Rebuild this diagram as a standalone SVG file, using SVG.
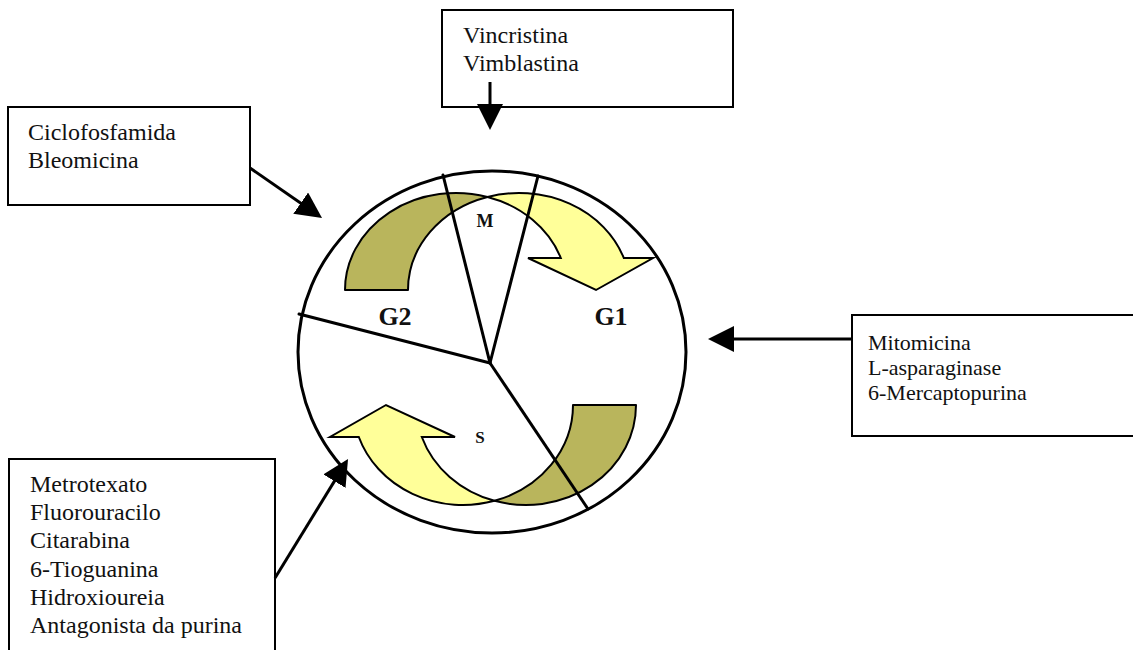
<svg xmlns="http://www.w3.org/2000/svg" width="1133" height="650" viewBox="0 0 1133 650">
<style>
.box{fill:#fff;stroke:#000;stroke-width:2}
.txt{font-family:"Liberation Serif","Times New Roman",serif;font-size:24px;fill:#111}
.txt2{font-family:"Liberation Serif","Times New Roman",serif;font-size:22px;fill:#111}
.lbl{font-family:"Liberation Serif","Times New Roman",serif;font-weight:bold;fill:#111;text-anchor:middle}
.conn{stroke:#000;stroke-width:3;fill:none;marker-end:url(#ah)}
.seg{stroke:#000;stroke-width:3;fill:none;stroke-linecap:round}
.olive{fill:#b9b55c;stroke:#000;stroke-width:2;stroke-linejoin:round}
.yel{fill:#ffff99;stroke:#000;stroke-width:2;stroke-linejoin:miter}
</style>
<defs>
<marker id="ah" markerUnits="userSpaceOnUse" markerWidth="27" markerHeight="27" refX="20" refY="13" orient="auto" viewBox="0 0 27 27">
<path d="M0,0 L26,13 L0,26 Z" fill="#000"/>
</marker>
</defs>
<rect width="1133" height="650" fill="#fff"/>

<g id="cycle">
<path class="olive" d="M345,290 A111 97 0 0 1 487.5,197 A111 97 0 0 0 408,290 Z"/>
<path class="yel" d="M487.5,197 A111 97 0 0 1 623.8,258 L653,258 L596,290 L528,258 L560.8,258 A111 97 0 0 0 487.5,197 Z"/>
<path class="olive" d="M636,405 A110 100 0 0 1 494.5,500.8 A110 100 0 0 0 573,405 Z"/>
<path class="yel" d="M494.5,500.8 A110 100 0 0 1 358.8,437 L330,437 L386,405 L455,437 L421.8,437 A110 100 0 0 0 494.5,500.8 Z"/>
<line class="seg" x1="490" y1="363" x2="443" y2="175"/>
<line class="seg" x1="490" y1="363" x2="538" y2="176"/>
<line class="seg" x1="490" y1="363" x2="299" y2="314"/>
<line class="seg" x1="490" y1="363" x2="588" y2="509"/>
<ellipse cx="492" cy="352" rx="194" ry="181" fill="none" stroke="#000" stroke-width="3"/>
<text class="lbl" x="485" y="227" font-size="18">M</text>
<text class="lbl" x="395" y="325" font-size="26">G2</text>
<text class="lbl" x="611" y="325" font-size="26">G1</text>
<text class="lbl" x="480" y="443" font-size="17">S</text>
</g>

<g id="box-ciclo">
<rect class="box" x="8" y="107" width="242" height="98"/>
<text class="txt" x="28" y="140">Ciclofosfamida</text>
<text class="txt" x="28" y="168">Bleomicina</text>
</g>

<g id="box-vinc">
<rect class="box" x="442" y="10" width="291" height="97"/>
<text class="txt" x="463" y="43">Vincristina</text>
<text class="txt" x="463" y="71">Vimblastina</text>
</g>

<g id="box-mito">
<rect class="box" x="852" y="315" width="300" height="121"/>
<text class="txt2" x="868" y="350">Mitomicina</text>
<text class="txt2" x="868" y="375">L-asparaginase</text>
<text class="txt2" x="868" y="400">6-Mercaptopurina</text>
</g>

<g id="box-metro">
<rect class="box" x="9" y="459" width="266" height="210"/>
<text class="txt" x="30" y="492">Metrotexato</text>
<text class="txt" x="30" y="520">Fluorouracilo</text>
<text class="txt" x="30" y="548">Citarabina</text>
<text class="txt" x="30" y="577">6-Tioguanina</text>
<text class="txt" x="30" y="605">Hidroxioureia</text>
<text class="txt" x="30" y="633">Antagonista da purina</text>
</g>

<g id="connectors">
<line class="conn" x1="250" y1="168" x2="317.1" y2="214.6"/>
<line class="conn" x1="490" y1="82" x2="490" y2="124"/>
<line class="conn" x1="852" y1="339" x2="714" y2="339"/>
<line class="conn" x1="275" y1="578" x2="344.9" y2="464.1"/>
</g>
</svg>
